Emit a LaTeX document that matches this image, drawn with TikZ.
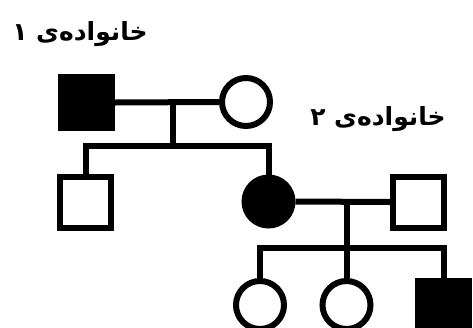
\documentclass[tikz,border=0pt]{standalone}
\usepackage{fontspec}
\newfontfamily\arabicfont[Script=Arabic]{DejaVu Sans}
\TeXXeTstate=1
\begin{document}
\begin{tikzpicture}[x=1pt,y=-1pt,line width=6pt,
  male/.style={draw,rectangle,minimum size=51pt,inner sep=0pt},
  female/.style={draw,circle,minimum size=48pt,inner sep=0pt},
  affected/.style={fill=black},
  famlabel/.style={font=\arabicfont\bfseries\fontsize{25}{28}\selectfont,inner sep=0pt}]
\useasboundingbox (0,0) rectangle (473,327);
\clip (0,0) rectangle (473,327);
% generation 1
\node[male,affected] (gf) at (86.5,102.5) {};
\node[female] (gm) at (246,102) {};
% generation 2
\node[male] (son) at (85.5,202) {};
\node[female,affected] (dau) at (268.5,201.5) {};
\node[male] (hus) at (418.5,202) {};
% generation 3
\node[female] (c1) at (260,305) {};
\node[female] (c2) at (346.5,305) {};
\node[male,affected] (c3) at (443.5,306.5) {};
% labels
\node[famlabel] (lab1) at (80,34) {\beginR خانوادەی ١\endR};
\node[famlabel] (lab2) at (378,119) {\beginR خانوادەی ٢\endR};
% family 1 connectors
\coordinate (m1) at (173,102);
\coordinate (s1) at (173,146);
\draw (gf.east) -- (gm.west);
\draw (m1) -- (s1);
\draw (son.north) |- (s1) -| (dau.north);
% family 2 connectors
\coordinate (m2) at (347,202);
\coordinate (s2) at (347,248);
\draw (dau.east) -- (hus.west);
\draw (m2) -- (s2);
\draw (c1.north) |- (s2) -| (c3.north);
\draw (s2 -| c2.north) -- (c2.north);
\end{tikzpicture}
\end{document}
